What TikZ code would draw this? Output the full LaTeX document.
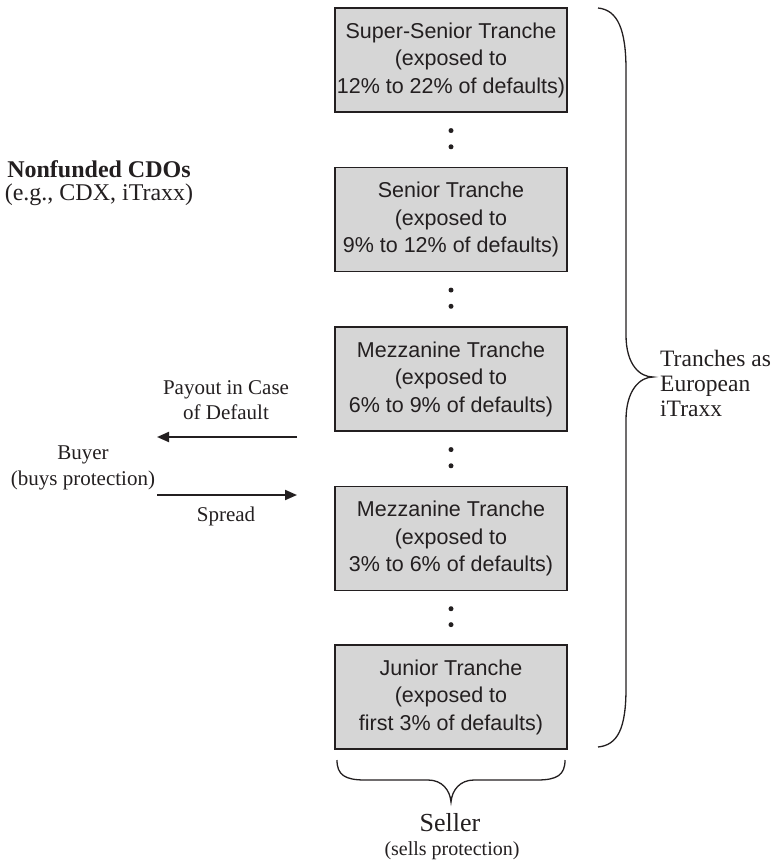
\documentclass[tikz,border=0pt]{standalone}
\usepackage{fontspec}
\setmainfont{Liberation Serif}
\newfontfamily\boxfont{Liberation Sans}
\usetikzlibrary{arrows.meta,calc}
\definecolor{ink}{HTML}{231F20}
\definecolor{tranchefill}{HTML}{D6D6D6}
\tikzset{
  tranche/.style={draw=ink, line width=1.4pt, fill=tranchefill,
    minimum width=232pt, minimum height=104pt, inner sep=0pt,
    align=center, text=ink,
    font=\boxfont\fontsize{21.5}{27.5}\selectfont},
  label/.style={align=center, text=ink, inner sep=0pt,
    font=\fontsize{21}{25.5}\selectfont},
  flow/.style={draw=ink, line width=2pt, -{Triangle[length=12pt,width=10pt]}},
  brace/.style={draw=ink, line width=1.3pt},
  gap/.style={fill=ink, circle, inner sep=0pt, minimum size=5pt}
}
\begin{document}
\begin{tikzpicture}[x=1pt,y=-1pt]
\useasboundingbox (0,0) rectangle (777,865);

% tranche stack
\node[tranche] (t1) at (451,60)    {Super-Senior Tranche\\(exposed to\\12\% to 22\% of defaults)};
\node[tranche] (t2) at (451,219.5) {Senior Tranche\\(exposed to\\9\% to 12\% of defaults)};
\node[tranche] (t3) at (451,379)   {Mezzanine Tranche\\(exposed to\\6\% to 9\% of defaults)};
\node[tranche] (t4) at (451,538.5) {Mezzanine Tranche\\(exposed to\\3\% to 6\% of defaults)};
\node[tranche] (t5) at (451,697)   {Junior Tranche\\(exposed to\\first 3\% of defaults)};

% ellipsis dots between tranches
\foreach \a/\b in {t1/t2,t2/t3,t3/t4,t4/t5}{
  \node[gap] at ($(\a.south)!0.33!(\b.north)$) {};
  \node[gap] at ($(\a.south)!0.63!(\b.north)$) {};
}

% left-hand labels
\node[label, font=\fontsize{24}{23}\selectfont] (cdo) at (99,183) {\textbf{Nonfunded CDOs}\\(e.g., CDX, iTraxx)};
\node[label] (payout) at (226,400) {Payout in Case\\of Default};
\node[label] (buyer) at (83,468) {Buyer\\(buys protection)};
\node[label] (spread) at (226,516) {Spread};

% cash flows between buyer and tranches
\coordinate (payR) at (297,437);
\coordinate (payL) at (157,437);
\coordinate (sprL) at (157,495);
\coordinate (sprR) at (297,495);
\draw[flow] (payR) -- (payL);
\draw[flow] (sprL) -- (sprR);

% right brace spanning all tranches
\draw[brace] (598,8) .. controls (618,10) and (626,30) .. (626,70)
  -- (626,335) .. controls (626,365) and (640,377) .. (653,377)
  .. controls (640,377) and (626,390) .. (626,420)
  -- (626,688) .. controls (626,728) and (618,745) .. (598,747);
\node[label, align=left, anchor=west, font=\fontsize{23.5}{25}\selectfont] (itraxx) at (660,383) {Tranches as\\European\\iTraxx};

% bottom brace under the stack
\draw[brace] (337,760) .. controls (337,775) and (345,780) .. (365,780)
  -- (428,780) .. controls (442,780) and (450,790) .. (451,802)
  .. controls (452,790) and (460,780) .. (474,780)
  -- (537,780) .. controls (557,780) and (565,775) .. (565,760);
\node[text=ink, inner sep=0pt, font=\fontsize{26}{30}\selectfont] (seller) at (450,823) {Seller};
\node[label, font=\fontsize{20}{24}\selectfont] (sellsub) at (452,851) {(sells protection)};
\end{tikzpicture}
\end{document}
